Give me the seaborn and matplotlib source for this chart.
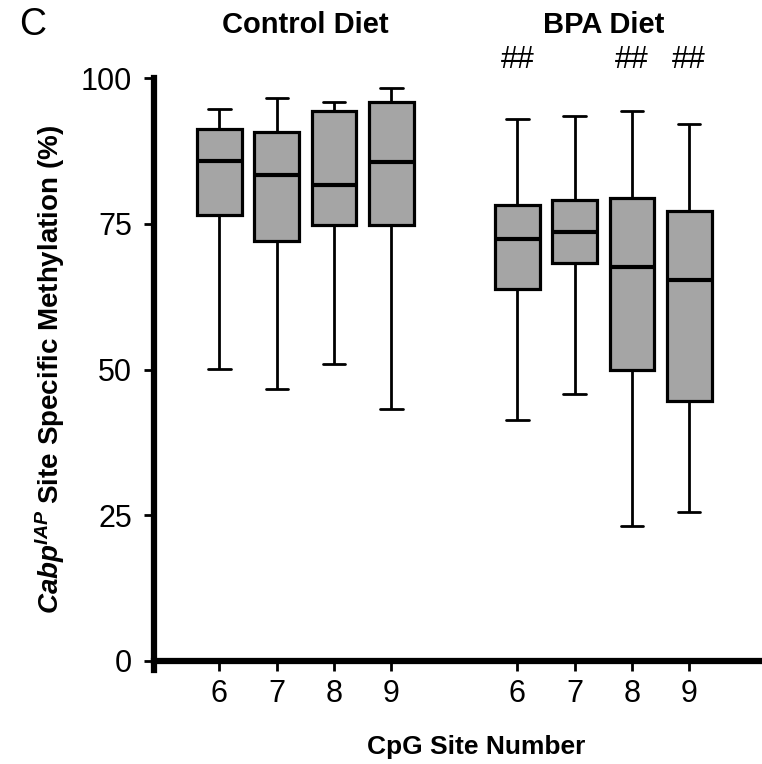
import numpy as np
import pandas as pd
import seaborn as sns
import matplotlib.pyplot as plt
import matplotlib.transforms as mtransforms

# valores (% de metilacao por sitio CpG)
site_labels = ['6', '7', '8', '9', '6', '7', '8', '9']
positions = [1, 2, 3, 4, 6.2, 7.2, 8.2, 9.2]
whisker_low = [50.1, 46.7, 50.9, 43.2, 41.3, 45.8, 23.1, 25.5]
q1 = [76.5, 72.1, 74.8, 74.8, 63.8, 68.2, 50.0, 44.6]
median = [85.7, 83.4, 81.7, 85.6, 72.4, 73.6, 67.5, 65.4]
q3 = [91.3, 90.8, 94.3, 95.9, 78.2, 79.0, 79.4, 77.2]
whisker_high = [94.7, 96.6, 95.9, 98.2, 93.0, 93.4, 94.3, 92.1]
significant = [False, False, False, False, True, False, True, True]
group_names = ['Control Diet', 'BPA Diet']

# 1. Montar dados longos (5 pontos por caixa -> quartis exatos)
rows = []
for i, p in enumerate(positions):
    for v in [whisker_low[i], q1[i], median[i], q3[i], whisker_high[i]]:
        rows.append({'pos': p, 'value': v})
df = pd.DataFrame(rows)

# 2. Estilo
sns.set_style('ticks')
plt.rcParams['font.family'] = ['Liberation Sans', 'DejaVu Sans']
plt.rcParams['mathtext.fontset'] = 'custom'
plt.rcParams['mathtext.rm'] = 'Liberation Sans'
plt.rcParams['mathtext.it'] = 'Liberation Sans:italic'
plt.rcParams['mathtext.bf'] = 'Liberation Sans:bold'
plt.rcParams['mathtext.bfit'] = 'Liberation Sans:italic:bold'
for k in ['text.color', 'axes.labelcolor', 'axes.edgecolor', 'xtick.color', 'ytick.color']:
    plt.rcParams[k] = 'black'

fig = plt.figure(figsize=(7.62, 7.64), dpi=100)
ax = fig.add_axes([154 / 762, 103 / 764, 608 / 762, 583 / 764])

# 3. Boxplot
sns.boxplot(data=df, x='pos', y='value', native_scale=True, orient='x',
            whis=(0, 100), width=0.78, color='#a5a5a5', saturation=1,
            linecolor='black', linewidth=2.3, fliersize=0, ax=ax,
            medianprops={'linewidth': 3},
            whiskerprops={'linewidth': 2},
            capprops={'linewidth': 2})

# 4. Eixos
ax.set_xlim(-0.143, 10.47)
ax.set_ylim(0, 100)
ax.set_yticks([0, 25, 50, 75, 100])
ax.set_xticks(positions)
ax.set_xticklabels(site_labels)
ax.tick_params(axis='both', labelsize=22, width=2, length=7, direction='out')
ax.tick_params(axis='y', pad=9)
ax.tick_params(axis='x', pad=6)
for s in ['top', 'right']:
    ax.spines[s].set_visible(False)
for s in ['left', 'bottom']:
    ax.spines[s].set_linewidth(4.5)
ax.spines['left'].set_bounds(-1.5, 100)

ax.set_ylabel(r'$\mathbfit{Cabp}^{\mathbfit{IAP}}$ Site Specific Methylation (%)',
              fontsize=20, fontweight='bold', labelpad=10)
ax.set_xlabel('CpG Site Number', fontsize=19, fontweight='bold')
ax.xaxis.set_label_coords((476 - 154) / 608, -0.127)

# 5. Titulos dos grupos e marcas de significancia
trans = mtransforms.blended_transform_factory(ax.transData, fig.transFigure)
ax.text(np.mean(positions[:4]), 1 - 25 / 764, group_names[0], transform=trans,
        ha='center', va='center', fontsize=21, fontweight='bold')
ax.text(np.mean(positions[4:]), 1 - 25 / 764, group_names[1], transform=trans,
        ha='center', va='center', fontsize=21, fontweight='bold')
for p, sig in zip(positions, significant):
    if sig:
        ax.text(p, 103.1, '##', ha='center', va='center', fontsize=22, clip_on=False)

fig.text(33 / 762, 1 - 25 / 764, 'C', ha='center', va='center', fontsize=27)

fig.savefig('out.png', dpi=100)
